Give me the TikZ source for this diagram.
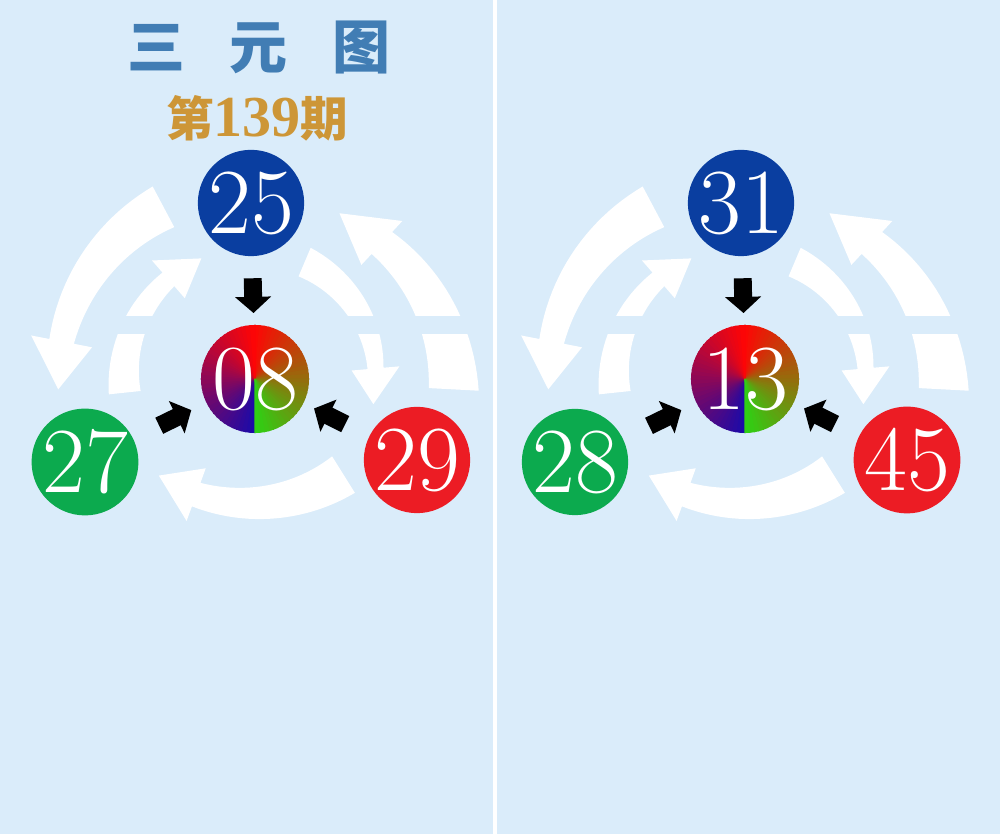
\documentclass[tikz,border=0pt]{standalone}
\usepackage{fontspec}
\newfontfamily\cjk{Noto Sans CJK SC}
\newfontfamily\numfont{Liberation Serif}
\usetikzlibrary{arrows.meta}

\definecolor{bgblue}{RGB}{218,236,250}
\definecolor{ballblue}{RGB}{10,62,160}
\definecolor{ballgreen}{RGB}{12,170,78}
\definecolor{ballred}{RGB}{236,28,36}
\definecolor{mixblue}{RGB}{25,10,170}
\definecolor{mixred}{RGB}{255,5,5}
\definecolor{mixgreen}{RGB}{45,210,20}
\definecolor{titleblue}{RGB}{65,125,180}
\definecolor{titlegold}{RGB}{205,150,55}

\tikzset{
  ball/.style={circle,inner sep=0pt,outer sep=0pt,minimum size=1.06cm,text=white,font=\fontsize{26.5}{29}\selectfont},
  topball/.style={ball,fill=ballblue},
  leftball/.style={ball,fill=ballgreen},
  rightball/.style={ball,fill=ballred},
  mixball/.style={ball,minimum size=1.08cm,path picture={
    \foreach \i in {0,...,35}{
      \pgfmathsetmacro\p{(\i+0.5)*100/36}
      \filldraw[mixred!\p!mixblue,line width=0.3pt,line join=round] (path picture bounding box.center) -- +({270-5*\i}:0.7cm) -- +({265-5*\i}:0.7cm) -- cycle;
      \filldraw[mixgreen!\p!mixred,line width=0.3pt,line join=round] (path picture bounding box.center) -- +({90-5*\i}:0.7cm) -- +({85-5*\i}:0.7cm) -- cycle;
    }}},
  blackarrow/.style={black,line width=5.1pt,-{Triangle[width=10pt,length=4.6pt]}},
  arcwhite/.style={white},
}

% curved white arrow: centre, tail angle, neck angle, tip angle, tail radius, neck radius, tail width, neck width, half head width
\newcommand\swoosh[9]{%
  \fill[arcwhite,shift={(#1)}]
    plot[domain=0:1,samples=24] ({#2+((#3)-(#2))*\x}:{#5+((#6)-(#5))*\x+(#7+((#8)-(#7))*\x)/2})
    -- ({#3}:{#6+#9}) -- ({#4}:{#6}) -- ({#3}:{#6-#9})
    -- plot[domain=0:1,samples=24] ({#2+((#3)-(#2))*(1-\x)}:{#5+((#6)-(#5))*(1-\x)-(#7+((#8)-(#7))*(1-\x))/2})
    -- cycle;}

% one panel: prefix, x offset, top, left, right, centre
\newcommand\triopanel[6]{%
  \coordinate (#1hub) at ({#2+255},455);
  \coordinate (#1low) at ({#2+255},501);
  \swoosh{#1hub}{118}{169}{183}{195}{197}{46}{25}{31}
  \swoosh{#1hub}{-3}{47}{63}{199}{186}{50}{30}{30}
  \swoosh{#1hub}{186}{131}{114}{131}{132}{32}{18}{25}
  \swoosh{#1hub}{67}{5}{-12}{127}{121}{31}{16}{24}
  \swoosh{#1low}{302}{250}{236}{167}{172}{43}{25}{28}
  \fill[bgblue] ({#2+100},500) rectangle ({#2+485},518);
  \node[topball] (#1top) at ({#2+251},631) {#3};
  \node[leftball] (#1left) at ({#2+85},372) {#4};
  \node[rightball] (#1right) at ({#2+417},374) {#5};
  \node[mixball] (#1mid) at (#1hub) {#6};
  \draw[blackarrow,shorten <=6.3pt,shorten >=3.4pt] (#1top) -- (#1mid);
  \draw[blackarrow,shorten <=8.3pt,shorten >=4.8pt] (#1left) -- (#1mid);
  \draw[blackarrow,shorten <=7.7pt,shorten >=3.4pt] (#1right) -- (#1mid);
}

\begin{document}
\begin{tikzpicture}[x=0.01cm,y=0.01cm]
  \fill[bgblue] (0,0) rectangle (1000,834);
  \useasboundingbox (0,0) rectangle (1000,834);
  \draw[white,line width=1.1pt] (495,0) -- (495,834);
  \node[text=titleblue,font=\cjk\bfseries\fontsize{16.5}{18}\selectfont] (title) at (259,786) {三\hspace{0.76em}元\hspace{0.76em}图};
  \node[text=titlegold] (issue) at (257,716) {{\cjk\bfseries\fontsize{13.5}{15}\selectfont 第}{\numfont\bfseries\fontsize{16.5}{18}\selectfont 139}{\cjk\bfseries\fontsize{13.5}{15}\selectfont 期}};
  \triopanel{L}{0}{25}{27}{29}{08}
  \triopanel{R}{490}{31}{28}{45}{13}
\end{tikzpicture}
\end{document}
